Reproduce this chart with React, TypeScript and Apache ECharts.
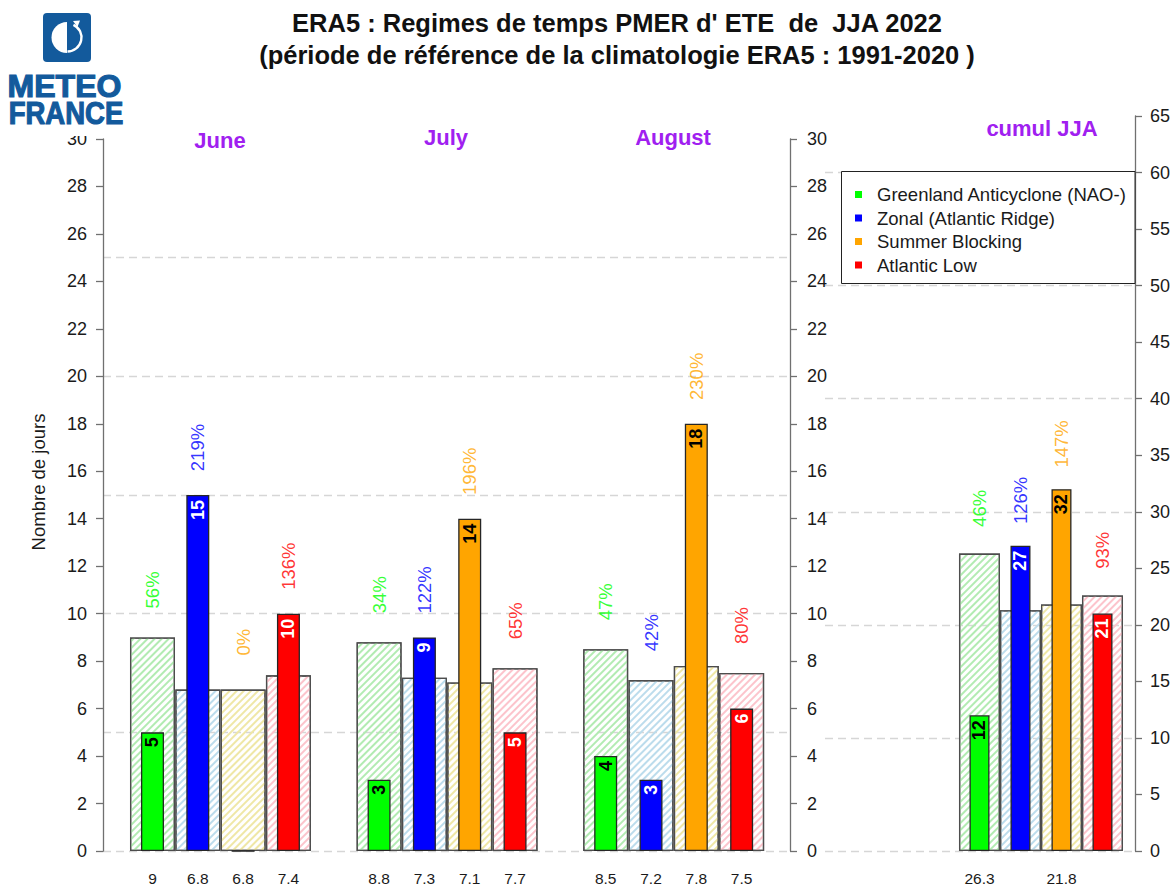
import React, { useEffect, useRef } from 'react';
import * as echarts from 'echarts';

// ---------------- data ----------------
const months = ['June', 'July', 'August'];
const cumulTitle = 'cumul JJA';
const regimes = [
  'Greenland Anticyclone (NAO-)',
  'Zonal (Atlantic Ridge)',
  'Summer Blocking',
  'Atlantic Low',
];
const regimeColors = ['#00ff00', '#0000ff', '#ffa500', '#ff0000'];
const hatchColors = ['#b2ebb2', '#bcdcec', '#efe7a6', '#fcc4cc'];
const valueLabelColors = ['#000000', '#ffffff', '#000000', '#ffffff'];

// observed number of days per regime
const observedJune = [5, 15, 0, 10];
const observedJuly = [3, 9, 14, 5];
const observedAugust = [4, 3, 18, 6];
// climatology (1991-2020) number of days per regime
const climJune = [9, 6.8, 6.8, 7.4];
const climJuly = [8.8, 7.3, 7.1, 7.7];
const climAugust = [8.5, 7.2, 7.8, 7.5];
// observed / climatology
const pctJune = ['56%', '219%', '0%', '136%'];
const pctJuly = ['34%', '122%', '196%', '65%'];
const pctAugust = ['47%', '42%', '230%', '80%'];
// whole summer
const observedJJA = [12, 27, 32, 21];
const climJJA = [26.3, 21.3, 21.8, 22.6];
const pctJJA = ['46%', '126%', '147%', '93%'];
const climJJALabelShown = [true, false, true, false];

const titleLine1 = "ERA5 : Regimes de temps PMER d' ETE  de  JJA 2022";
const titleLine2 = '(période de référence de la climatologie ERA5 : 1991-2020 )';
const yAxisName = 'Nombre de jours';

const monthlyAxis = { min: 0, max: 30, interval: 2, gridInterval: 5 };
const cumulAxis = { min: 0, max: 65, interval: 5, gridInterval: 10 };

// ---------------- layout / style ----------------
const FONT = '"Liberation Sans", Arial, Helvetica, sans-serif';
const MAIN_GRID = { left: 103, top: 139, width: 687, height: 712 };
const CUMUL_GRID = { left: 825, top: 116, width: 310, height: 735 };
const MAIN_X_RANGE = [-1.092, 14.067];
const CUMUL_X_RANGE = [-3.768, 3.793];
const MONTH_STRIDE = 5;
const AXIS_COLOR = '#707070';
const TEXT_COLOR = '#1a1a1a';
const TITLE_PURPLE = '#a020f0';
const LOGO_BLUE = '#135a9c';
const LEGEND_BOX = { x: 841.5, y: 171.5, width: 293.5, height: 112 };

function hatch(color: string) {
  return {
    symbol: 'rect',
    symbolSize: 1,
    color,
    dashArrayX: [1, 0],
    dashArrayY: [2, 2.5],
    rotation: -Math.PI / 4,
  };
}

function climItemStyle(r: number) {
  return {
    color: 'rgba(255,255,255,0)',
    borderColor: '#4d4d4d',
    borderWidth: 1.3,
    decal: hatch(hatchColors[r]),
  };
}

function obsItemStyle(r: number) {
  return { color: regimeColors[r], borderColor: '#262626', borderWidth: 1.3 };
}

function obsLabel(r: number) {
  return {
    show: true,
    position: 'insideTop',
    rotate: 90,
    align: 'right',
    verticalAlign: 'middle',
    distance: 5,
    color: valueLabelColors[r],
    fontWeight: 'bold',
    fontSize: 18,
    fontFamily: FONT,
    formatter: (p: any) => (p.value[1] === 0 ? '' : String(p.value[1])),
  };
}

const climLabel = {
  show: true,
  position: 'bottom',
  distance: 19,
  color: TEXT_COLOR,
  fontSize: 15.5,
  fontFamily: FONT,
  formatter: (p: any) => String(p.value[1]),
};

const pctLabel = {
  show: true,
  position: 'inside',
  rotate: 90,
  align: 'center',
  verticalAlign: 'middle',
  fontSize: 18.5,
  fontFamily: FONT,
  formatter: '{b}',
};

function yAxisVisible(gridIndex: number, position: string, ax: any, margin: number, extra: any = {}) {
  return {
    type: 'value',
    gridIndex,
    position,
    min: ax.min,
    max: ax.max,
    interval: ax.interval,
    axisLine: { show: true, onZero: false, lineStyle: { color: AXIS_COLOR, width: 1.3 } },
    axisTick: { show: true, length: 7, lineStyle: { color: AXIS_COLOR, width: 1.3 } },
    axisLabel: { fontSize: 18, color: TEXT_COLOR, fontFamily: FONT, margin },
    splitLine: { show: false },
    ...extra,
  };
}

function yAxisGridLines(gridIndex: number, ax: any) {
  return {
    type: 'value',
    gridIndex,
    min: ax.min,
    max: ax.max,
    interval: ax.gridInterval,
    axisLine: { show: false, onZero: false },
    axisTick: { show: false },
    axisLabel: { show: false },
    splitLine: {
      show: true,
      showMaxLine: false,
      lineStyle: { color: '#d6d6d6', width: 1.3, type: [8, 5] },
    },
  };
}

function buildOption() {
  const observedByMonth = [observedJune, observedJuly, observedAugust];
  const climByMonth = [climJune, climJuly, climAugust];
  const pctByMonth = [pctJune, pctJuly, pctAugust];

  const series: any[] = [];

  // climatology bars (hatched, wide)
  regimes.forEach((name, r) => {
    series.push({
      type: 'bar',
      name: 'clim ' + name,
      xAxisIndex: 0,
      yAxisIndex: 0,
      barWidth: 45,
      barGap: '-100%',
      silent: true,
      itemStyle: climItemStyle(r),
      label: climLabel,
      data: months.map((_, m) => [m * MONTH_STRIDE + r, climByMonth[m][r]]),
    });
    series.push({
      type: 'bar',
      name: 'clim ' + name,
      xAxisIndex: 2,
      yAxisIndex: 3,
      barWidth: 41,
      barGap: '-100%',
      silent: true,
      itemStyle: climItemStyle(r),
      label: climLabel,
      data: [{ value: [r, climJJA[r]], label: { show: climJJALabelShown[r] } }],
    });
  });

  // observed bars (solid, narrow)
  regimes.forEach((name, r) => {
    series.push({
      type: 'bar',
      name,
      xAxisIndex: 1,
      yAxisIndex: 0,
      barWidth: 23,
      barGap: '-100%',
      itemStyle: obsItemStyle(r),
      label: obsLabel(r),
      data: months.map((_, m) => [m * MONTH_STRIDE + r, observedByMonth[m][r]]),
    });
    series.push({
      type: 'bar',
      name,
      xAxisIndex: 3,
      yAxisIndex: 3,
      barWidth: 20,
      barGap: '-100%',
      itemStyle: obsItemStyle(r),
      label: obsLabel(r),
      data: [[r, observedJJA[r]]],
    });
  });

  // percentage labels above the bars
  series.push({
    type: 'scatter',
    name: 'pct monthly',
    xAxisIndex: 0,
    yAxisIndex: 0,
    symbolSize: 1,
    silent: true,
    itemStyle: { color: 'rgba(0,0,0,0)' },
    label: pctLabel,
    data: months.flatMap((_, m) =>
      regimes.map((__, r) => ({
        name: pctByMonth[m][r],
        value: [m * MONTH_STRIDE + r, Math.max(observedByMonth[m][r], climByMonth[m][r]) + 2],
        label: { color: regimeColors[r] },
      }))
    ),
  });
  series.push({
    type: 'scatter',
    name: 'pct cumul',
    xAxisIndex: 2,
    yAxisIndex: 3,
    symbolSize: 1,
    silent: true,
    itemStyle: { color: 'rgba(0,0,0,0)' },
    label: pctLabel,
    data: regimes.map((_, r) => ({
      name: pctJJA[r],
      value: [r, Math.max(observedJJA[r], climJJA[r]) + 4],
      label: { color: regimeColors[r] },
    })),
  });

  const panelTitle = (text: string, left: number, top: number) => ({
    text,
    left,
    top,
    padding: 0,
    textAlign: 'center',
    textStyle: { fontSize: 22, fontWeight: 'bold', color: TITLE_PURPLE, fontFamily: FONT, lineHeight: 26 },
  });

  const logoText = (text: string, x: number, y: number, scaleX: number) => ({
    type: 'text',
    z: 52,
    x,
    y,
    scaleX,
    style: {
      text,
      fontSize: 32,
      fontWeight: 'bold',
      fontFamily: FONT,
      fill: LOGO_BLUE,
      stroke: LOGO_BLUE,
      lineWidth: 1.2,
      align: 'center',
      verticalAlign: 'middle',
      textAlign: 'center',
      textVerticalAlign: 'middle',
    },
  });

  return {
    animation: false,
    backgroundColor: '#ffffff',
    textStyle: { fontFamily: FONT },
    title: [
      {
        text: titleLine1 + '\n' + titleLine2,
        left: 617,
        top: 7,
        padding: 0,
        textAlign: 'center',
        textStyle: { fontSize: 25.5, fontWeight: 'bold', color: '#111', fontFamily: FONT, lineHeight: 32 },
      },
      panelTitle(months[0], 220, 127),
      panelTitle(months[1], 446, 124),
      panelTitle(months[2], 673, 124),
      panelTitle(cumulTitle, 1042, 115),
    ],
    legend: {
      data: regimes.map((name) => ({ name, itemStyle: { borderWidth: 0 } })),
      orient: 'vertical',
      left: 841,
      top: 171,
      padding: [14, 0, 0, 14],
      itemWidth: 7,
      itemHeight: 7,
      itemGap: 4.5,
      icon: 'rect',
      selectedMode: false,
      z: 6,
      textStyle: { fontSize: 18.5, color: TEXT_COLOR, fontFamily: FONT, lineHeight: 18, padding: [0, 0, 0, 10] },
    },
    grid: [
      { ...MAIN_GRID, containLabel: false, outerBoundsMode: 'none' },
      { ...CUMUL_GRID, containLabel: false, outerBoundsMode: 'none' },
    ],
    xAxis: [
      { type: 'value', gridIndex: 0, min: MAIN_X_RANGE[0], max: MAIN_X_RANGE[1], show: false },
      { type: 'value', gridIndex: 0, min: MAIN_X_RANGE[0], max: MAIN_X_RANGE[1], show: false },
      { type: 'value', gridIndex: 1, min: CUMUL_X_RANGE[0], max: CUMUL_X_RANGE[1], show: false },
      { type: 'value', gridIndex: 1, min: CUMUL_X_RANGE[0], max: CUMUL_X_RANGE[1], show: false },
    ],
    yAxis: [
      yAxisVisible(0, 'left', monthlyAxis, 16, {
        name: yAxisName,
        nameLocation: 'middle',
        nameGap: 55,
        nameRotate: 90,
        nameTextStyle: { fontSize: 18.5, color: TEXT_COLOR, fontFamily: FONT, padding: [0, 0, 0, 26] },
      }),
      yAxisVisible(0, 'right', monthlyAxis, 17),
      yAxisGridLines(0, monthlyAxis),
      yAxisVisible(1, 'right', cumulAxis, 15),
      yAxisGridLines(1, cumulAxis),
    ],
    graphic: [
      { type: 'rect', z: 5, shape: LEGEND_BOX, style: { fill: '#ffffff', stroke: '#222222', lineWidth: 1 } },
      { type: 'rect', z: 50, shape: { x: 0, y: 0, width: 128, height: 136 }, style: { fill: '#ffffff' } },
      { type: 'rect', z: 51, shape: { x: 43, y: 13, width: 48, height: 49, r: 4 }, style: { fill: LOGO_BLUE } },
      {
        type: 'sector',
        z: 52,
        shape: { cx: 67, cy: 37.5, r: 15.5, r0: 0, startAngle: Math.PI / 2, endAngle: (Math.PI * 3) / 2 },
        style: { fill: '#ffffff' },
      },
      {
        type: 'arc',
        z: 52,
        shape: { cx: 67.5, cy: 37.5, r: 14, startAngle: -Math.PI * 0.36, endAngle: Math.PI / 2 },
        style: { stroke: '#ffffff', lineWidth: 2.4, fill: 'none' },
      },
      { type: 'polygon', z: 52, shape: { points: [[73, 21], [80, 20.5], [77.5, 27]] }, style: { fill: '#ffffff' } },
      logoText('METEO', 64.5, 86, 1),
      logoText('FRANCE', 66, 113, 0.86),
    ],
    series,
  };
}

export default function App() {
  const ref = useRef<HTMLDivElement>(null);
  useEffect(() => {
    if (!ref.current) return;
    const chart = echarts.init(ref.current, null, { renderer: 'svg' });
    chart.setOption(buildOption() as any);
    return () => chart.dispose();
  }, []);
  return (
    <div
      ref={ref}
      style={{ position: 'absolute', left: 0, top: 0, width: 1176, height: 885, background: '#ffffff' }}
    />
  );
}
